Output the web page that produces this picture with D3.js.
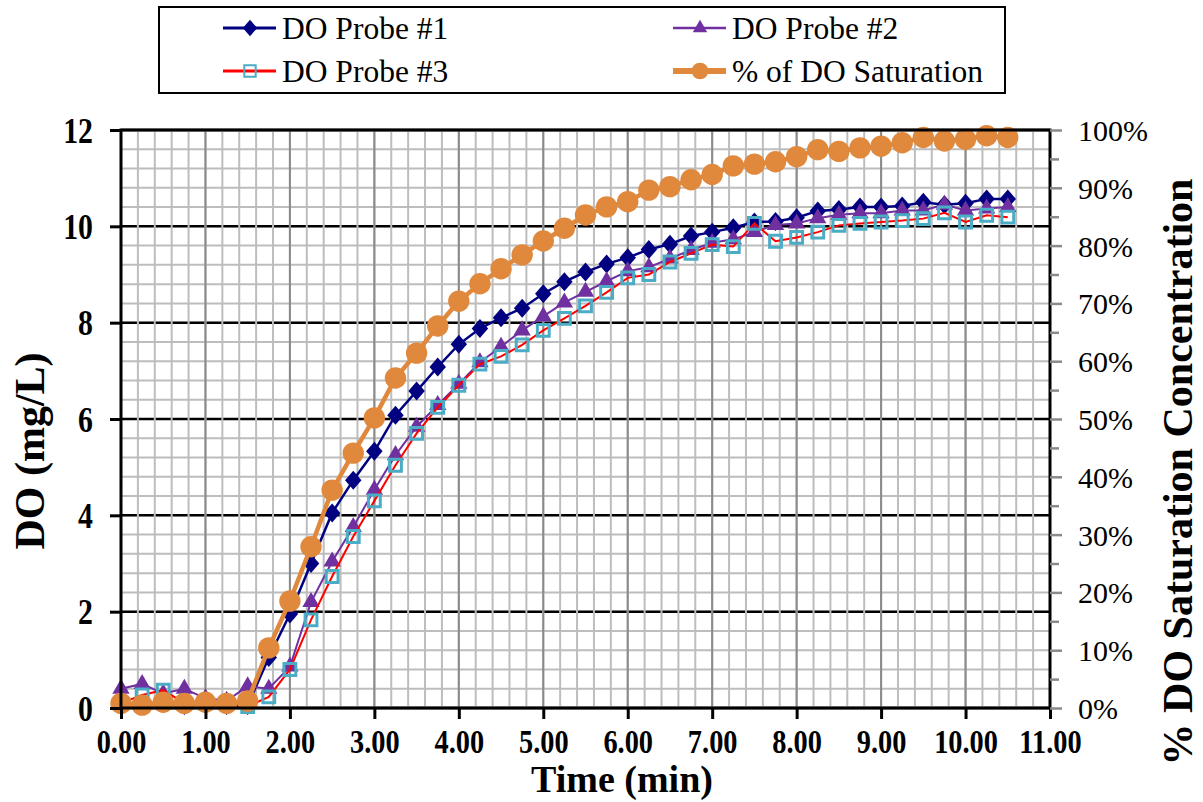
<!DOCTYPE html>
<html>
<head>
<meta charset="utf-8">
<script src="https://cdn.jsdelivr.net/npm/d3@7"></script>
<style>
    body { margin: 0; background: #fff; }
    #chart { width: 1203px; height: 802px; }
</style>
</head>
<body>
<div id="chart"></div>
<script>
// time (min), one sample every 15 s
var times = [0, 0.25, 0.5, 0.75, 1, 1.25, 1.5, 1.75, 2, 2.25, 2.5, 2.75, 3, 3.25, 3.5, 3.75,
    4, 4.25, 4.5, 4.75, 5, 5.25, 5.5, 5.75, 6, 6.25, 6.5, 6.75, 7, 7.25, 7.5, 7.75,
    8, 8.25, 8.5, 8.75, 9, 9.25, 9.5, 9.75, 10, 10.25, 10.5]

// DO readings (mg/L)
var probe1 = [0.1, 0.05, 0.1, 0.05, 0.1, 0.05, 0.05, 1.05, 1.95, 3.0, 4.05, 4.73, 5.33, 6.08, 6.58, 7.08,
    7.55, 7.88, 8.1, 8.3, 8.6, 8.85, 9.05, 9.22, 9.35, 9.52, 9.63, 9.8, 9.88, 9.97, 10.09, 10.1,
    10.18, 10.32, 10.35, 10.4, 10.4, 10.42, 10.5, 10.45, 10.48, 10.57, 10.57]
var probe2 = [0.4, 0.5, 0.3, 0.4, 0.2, 0.15, 0.45, 0.4, 0.86, 2.2, 3.04, 3.76, 4.53, 5.25, 5.84, 6.29,
    6.73, 7.18, 7.5, 7.84, 8.13, 8.42, 8.64, 8.86, 9.07, 9.15, 9.33, 9.51, 9.66, 9.73, 9.88, 10.03,
    10.06, 10.17, 10.24, 10.27, 10.27, 10.33, 10.33, 10.45, 10.33, 10.37, 10.4]
var probe3 = [0.1, 0.27, 0.37, 0.1, 0.1, 0.1, 0.03, 0.23, 0.8, 1.83, 2.73, 3.56, 4.3, 5.04, 5.7, 6.24,
    6.7, 7.14, 7.3, 7.54, 7.84, 8.09, 8.35, 8.63, 8.93, 9.0, 9.26, 9.44, 9.62, 9.58, 10.06, 9.69,
    9.77, 9.88, 10.02, 10.06, 10.09, 10.12, 10.16, 10.28, 10.09, 10.23, 10.19]

// % of DO saturation (right axis)
var saturation = [0.8, 0.5, 1.0, 0.8, 1.0, 0.8, 1.2, 10.4, 18.5, 27.9, 37.7, 44.1, 50.2, 57.1, 61.4, 66.1,
    70.4, 73.4, 76.0, 78.4, 80.8, 83.0, 85.3, 86.7, 87.6, 89.6, 90.2, 91.4, 92.3, 93.8, 94.1, 94.5,
    95.4, 96.6, 96.3, 96.9, 97.2, 97.8, 98.7, 98.1, 98.4, 99.0, 98.7]

var xTicks = [0, 1, 2, 3, 4, 5, 6, 7, 8, 9, 10, 11]
var yTicks = [0, 2, 4, 6, 8, 10, 12]
var pctTicks = [0, 10, 20, 30, 40, 50, 60, 70, 80, 90, 100]
var pctMinorTicks = [5, 15, 25, 35, 45, 55, 65, 75, 85, 95]

var seriesNames = ['DO Probe #1', 'DO Probe #2', 'DO Probe #3', '% of DO Saturation']

var font = "'Liberation Serif', 'Times New Roman', serif"
var width = 1203
var height = 802
var pLeft = 121, pRight = 1050, pTop = 130, pBottom = 708

var x = d3.scaleLinear().domain([0, 11]).range([pLeft, pRight])
var y = d3.scaleLinear().domain([0, 12]).range([pBottom, pTop])
var yPct = d3.scaleLinear().domain([0, 100]).range([pBottom, pTop])

var svg = d3.select('#chart').append('svg')
    .attr('width', width)
    .attr('height', height)
    .style('font-family', font)

// custom diamond, a bit taller than wide
var diamond = {
    draw: function(ctx, size) {
        var w = Math.sqrt(size) * 0.52, h = Math.sqrt(size) * 0.6
        ctx.moveTo(0, -h)
        ctx.lineTo(w, 0)
        ctx.lineTo(0, h)
        ctx.lineTo(-w, 0)
        ctx.closePath()
    }
}

// grid
var grid = svg.append('g').attr('class', 'grid')

grid.selectAll('.hminor')
    .data(d3.range(0, 12.01, 0.4))
    .enter().append('line')
    .attr('x1', pLeft).attr('x2', pRight)
    .attr('y1', function(d) { return y(d) })
    .attr('y2', function(d) { return y(d) })
    .attr('stroke', '#bdbdbd')
    .attr('stroke-width', 2)

grid.selectAll('.hmajor')
    .data(yTicks)
    .enter().append('line')
    .attr('x1', pLeft).attr('x2', pRight)
    .attr('y1', function(d) { return y(d) })
    .attr('y2', function(d) { return y(d) })
    .attr('stroke', '#000')
    .attr('stroke-width', 2.5)

grid.selectAll('.vminor')
    .data(d3.range(0, 11.01, 0.2))
    .enter().append('line')
    .attr('y1', pTop).attr('y2', pBottom)
    .attr('x1', function(d) { return x(d) })
    .attr('x2', function(d) { return x(d) })
    .attr('stroke', '#bdbdbd')
    .attr('stroke-width', 2)

grid.selectAll('.vmajor')
    .data(xTicks)
    .enter().append('line')
    .attr('y1', pTop).attr('y2', pBottom)
    .attr('x1', function(d) { return x(d) })
    .attr('x2', function(d) { return x(d) })
    .attr('stroke', '#8a8a8a')
    .attr('stroke-width', 2)

// series
var series = [
    { values: probe1, scale: y, line: '#000080', lw: 2.5, symbol: diamond, size: 250, fill: '#000080', stroke: 'none' },
    { values: probe2, scale: y, line: '#7030a0', lw: 2, symbol: d3.symbolTriangle, size: 130, fill: '#7030a0', stroke: 'none' },
    { values: probe3, scale: y, line: '#ff0000', lw: 2, symbol: d3.symbolSquare, size: 140, fill: 'none', stroke: '#4bacc6' },
    { values: saturation, scale: yPct, line: '#e0883c', lw: 4.5, symbol: d3.symbolCircle, size: 360, fill: '#e0883c', stroke: 'none' }
]

series.forEach(function(s) {
    var pts = times.map(function(t, i) { return [t, s.values[i]] })
    var line = d3.line()
        .x(function(d) { return x(d[0]) })
        .y(function(d) { return s.scale(d[1]) })

    var g = svg.append('g')
    g.append('path')
        .datum(pts)
        .attr('d', line)
        .attr('fill', 'none')
        .attr('stroke', s.line)
        .attr('stroke-width', s.lw)

    g.selectAll('path.pt')
        .data(pts)
        .enter().append('path')
        .attr('class', 'pt')
        .attr('transform', function(d) { return 'translate(' + x(d[0]) + ',' + s.scale(d[1]) + ')' })
        .attr('d', d3.symbol().type(s.symbol).size(s.size))
        .attr('fill', s.fill)
        .attr('stroke', s.stroke)
        .attr('stroke-width', 3)
})

// frame
svg.append('rect')
    .attr('x', pLeft).attr('y', pTop)
    .attr('width', pRight - pLeft).attr('height', pBottom - pTop)
    .attr('fill', 'none')
    .attr('stroke', '#000')
    .attr('stroke-width', 3)

// axes
var xAxis = svg.append('g')
    .attr('transform', 'translate(0,' + pBottom + ')')
    .call(d3.axisBottom(x).tickValues(xTicks).tickSize(11).tickSizeOuter(0)
        .tickFormat(function(d) { return d.toFixed(2) }))
xAxis.select('.domain').remove()
xAxis.selectAll('line').attr('stroke', '#000').attr('stroke-width', 3)
xAxis.selectAll('text')
    .attr('y', 45).attr('dy', 0).attr('x', 0)
    .attr('transform', 'scale(0.86,1)')
    .style('font-family', font)
    .style('font-size', '33px')
    .style('font-weight', 'bold')

var yAxis = svg.append('g')
    .attr('transform', 'translate(' + pLeft + ',0)')
    .call(d3.axisLeft(y).tickValues(yTicks).tickSize(11).tickSizeOuter(0))
yAxis.select('.domain').remove()
yAxis.selectAll('line').attr('stroke', '#000').attr('stroke-width', 3)
yAxis.selectAll('text')
    .attr('x', -33).attr('dy', '0.35em')
    .attr('transform', 'scale(0.85,1)')
    .style('font-family', font)
    .style('font-size', '35px')
    .style('font-weight', 'bold')

var rAxis = svg.append('g')
    .attr('transform', 'translate(' + pRight + ',0)')
    .call(d3.axisRight(yPct).tickValues(pctTicks).tickSize(12).tickSizeOuter(0)
        .tickFormat(function(d) { return d + '%' }))
rAxis.select('.domain').remove()
rAxis.selectAll('line').attr('stroke', '#8a8a8a').attr('stroke-width', 2.5)
rAxis.selectAll('text')
    .attr('x', 28).attr('dy', '0.35em')
    .style('font-family', font)
    .style('font-size', '30px')

var rMinor = svg.append('g')
    .attr('transform', 'translate(' + pRight + ',0)')
    .call(d3.axisRight(yPct).tickValues(pctMinorTicks).tickSize(9).tickSizeOuter(0).tickFormat(''))
rMinor.select('.domain').remove()
rMinor.selectAll('line').attr('stroke', '#8a8a8a').attr('stroke-width', 2.5)

// axis titles
svg.append('text')
    .attr('x', 622).attr('y', 792)
    .attr('text-anchor', 'middle')
    .style('font-size', '38px')
    .style('font-weight', 'bold')
    .text('Time (min)')

svg.append('text')
    .attr('transform', 'translate(44,451) rotate(-90)')
    .attr('text-anchor', 'middle')
    .style('font-size', '42px')
    .style('font-weight', 'bold')
    .text('DO (mg/L)')

svg.append('text')
    .attr('transform', 'translate(1192,472) rotate(-90)')
    .attr('text-anchor', 'middle')
    .style('font-size', '42px')
    .style('font-weight', 'bold')
    .text('% DO Saturation Concentration')

// legend
var legend = svg.append('g').attr('class', 'legend')
legend.append('rect')
    .attr('x', 159).attr('y', 7)
    .attr('width', 846).attr('height', 86)
    .attr('fill', '#fff')
    .attr('stroke', '#000')
    .attr('stroke-width', 2)

var legendPos = [[223, 28], [673, 28], [223, 71], [673, 71]]
var legendSizes = [190, 90, 130, 220]
var legendLines = [3, 2.5, 3, 6]

series.forEach(function(s, i) {
    var p = legendPos[i]
    var item = legend.append('g').attr('transform', 'translate(' + p[0] + ',' + p[1] + ')')
    item.append('line')
        .attr('x1', 0).attr('x2', 53)
        .attr('stroke', s.line)
        .attr('stroke-width', legendLines[i])
    item.append('path')
        .attr('transform', 'translate(27,0)')
        .attr('d', d3.symbol().type(s.symbol).size(legendSizes[i]))
        .attr('fill', s.fill)
        .attr('stroke', s.stroke)
        .attr('stroke-width', 2)
    item.append('text')
        .attr('x', 59).attr('y', 11)
        .style('font-family', font)
        .style('font-size', '31.5px')
        .text(seriesNames[i])
})
</script>
</body>
</html>
